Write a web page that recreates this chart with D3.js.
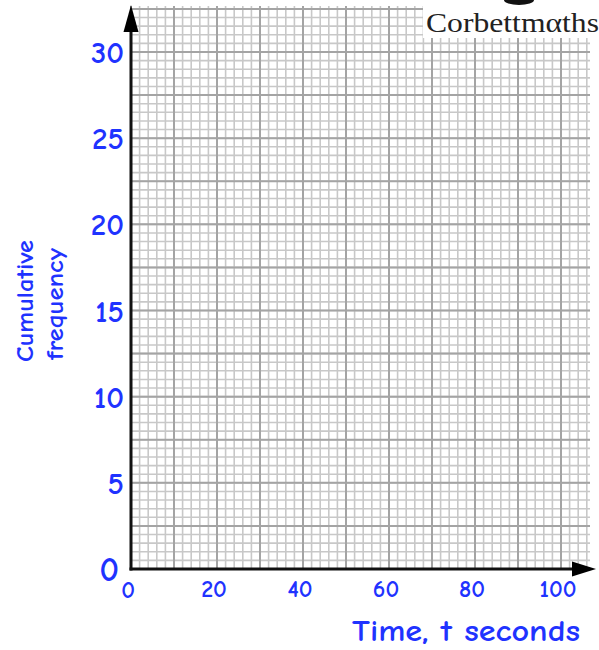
<!DOCTYPE html>
<html>
<head>
<meta charset="utf-8">
<script src="https://cdn.jsdelivr.net/npm/d3@7"></script>
<style>
  body { margin: 0; background: #fff; }
  svg { display: block; }
  .lbl { font-family: "Comic Sans MS", "Comic Neue", Lato, "Noto Sans", sans-serif; fill: #1f33ff; font-weight: bold; }
</style>
</head>
<body>
<div id="chart"></div>
<script>
// valeurs des axes
var xTicks = [0, 20, 40, 60, 80, 100];
var yTicks = [0, 5, 10, 15, 20, 25, 30];
var xMinor = d3.range(0, 107, 2);
var xMajor = d3.range(0, 107, 10);
var yMinor = d3.range(0, 32.7, 0.5);
var yMajor = d3.range(0, 32.7, 2.5);
var xTitle = "Time, t seconds";
var yTitle = ["Cumulative", "frequency"];

var width = 599, height = 650;

var x = d3.scaleLinear().domain([0, 100]).range([131, 561]);
var y = d3.scaleLinear().domain([0, 30]).range([569, 52]);

var svg = d3.select("#chart").append("svg")
    .attr("width", width)
    .attr("height", height);

// papier millimétré
var gridLeft = x(0), gridRight = 590, gridTop = 6, gridBottom = y(0);

var grid = svg.append("g");

grid.selectAll(".vmin").data(xMinor).enter().append("line")
    .attr("x1", function(d) { return x(d); })
    .attr("x2", function(d) { return x(d); })
    .attr("y1", gridTop).attr("y2", gridBottom)
    .attr("stroke", "#c8c8c8").attr("stroke-width", 1.6);

grid.selectAll(".hmin").data(yMinor).enter().append("line")
    .attr("y1", function(d) { return y(d); })
    .attr("y2", function(d) { return y(d); })
    .attr("x1", gridLeft).attr("x2", gridRight)
    .attr("stroke", "#c8c8c8").attr("stroke-width", 1.6);

grid.selectAll(".vmaj").data(xMajor).enter().append("line")
    .attr("x1", function(d) { return x(d); })
    .attr("x2", function(d) { return x(d); })
    .attr("y1", gridTop).attr("y2", gridBottom)
    .attr("stroke", "#a4a4a4").attr("stroke-width", 2);

grid.selectAll(".hmaj").data(yMajor).enter().append("line")
    .attr("y1", function(d) { return y(d); })
    .attr("y2", function(d) { return y(d); })
    .attr("x1", gridLeft).attr("x2", gridRight)
    .attr("stroke", "#a4a4a4").attr("stroke-width", 2);

// logo Corbettmaths
svg.append("rect")
    .attr("x", 423).attr("y", 0).attr("width", 176).attr("height", 38)
    .attr("fill", "#fff");
svg.append("ellipse")
    .attr("cx", 519).attr("cy", 0).attr("rx", 15).attr("ry", 5)
    .attr("fill", "#111");
svg.append("text")
    .attr("x", 426).attr("y", 32)
    .attr("font-family", "'Liberation Serif', 'DejaVu Serif', serif")
    .attr("font-size", 27)
    .attr("fill", "#222")
    .attr("textLength", 173)
    .attr("lengthAdjust", "spacingAndGlyphs")
    .text("Corbettm\u03b1ths");

// axes avec flèches
svg.append("line")
    .attr("x1", x(0)).attr("x2", x(0))
    .attr("y1", y(0) + 1.5).attr("y2", 30)
    .attr("stroke", "#111").attr("stroke-width", 3);
svg.append("path")
    .attr("d", "M" + x(0) + ",5 L" + (x(0) - 7.5) + ",32 L" + (x(0) + 7.5) + ",32 Z")
    .attr("fill", "#000");

svg.append("line")
    .attr("x1", x(0) - 1.5).attr("x2", 574)
    .attr("y1", y(0)).attr("y2", y(0))
    .attr("stroke", "#111").attr("stroke-width", 3);
svg.append("path")
    .attr("d", "M596," + y(0) + " L572," + (y(0) - 7.5) + " L572," + (y(0) + 7.5) + " Z")
    .attr("fill", "#000");

// étiquettes de l'axe y
svg.selectAll(".ylab").data(yTicks).enter().append("text")
    .attr("class", "lbl")
    .attr("x", function(d) { return d === 0 ? 119 : 124; })
    .attr("y", function(d) { return y(d) + 1; })
    .attr("text-anchor", "end")
    .attr("dominant-baseline", "central")
    .attr("font-size", function(d) { return d === 0 ? 34 : 31; })
    .text(function(d) { return d; });

// étiquettes de l'axe x
svg.selectAll(".xlab").data(xTicks).enter().append("text")
    .attr("class", "lbl")
    .attr("x", function(d) { return d === 0 ? x(d) - 3 : x(d) - 3; })
    .attr("y", function(d) { return d === 0 ? 590 : 589; })
    .attr("text-anchor", "middle")
    .attr("dominant-baseline", "central")
    .attr("font-size", 24)
    .text(function(d) { return d; });

// titres
svg.append("text")
    .attr("class", "lbl")
    .attr("x", 352).attr("y", 641)
    .attr("font-size", 31)
    .attr("textLength", 228)
    .attr("lengthAdjust", "spacingAndGlyphs")
    .text(xTitle);

svg.selectAll(".ytitle").data(yTitle).enter().append("text")
    .attr("class", "lbl")
    .attr("transform", function(d, i) {
        return "translate(" + (i === 0 ? 33 : 63) + "," + (i === 0 ? 362 : 360) + ") rotate(-90)";
    })
    .attr("font-size", 25)
    .attr("textLength", function(d, i) { return i === 0 ? 122 : 112; })
    .attr("lengthAdjust", "spacingAndGlyphs")
    .text(function(d) { return d; });
</script>
</body>
</html>
